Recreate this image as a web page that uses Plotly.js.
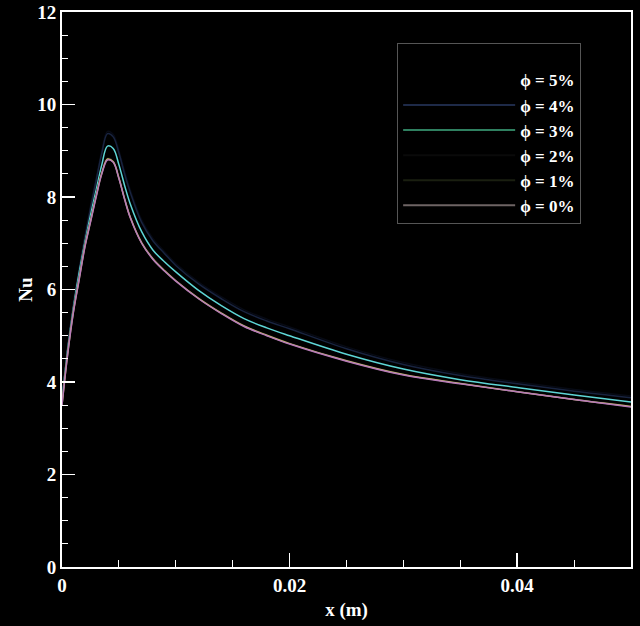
<!DOCTYPE html>
<html>
<head>
<meta charset="utf-8">
<script src="https://cdn.plot.ly/plotly-3.0.1.min.js"></script>
<style>html,body{margin:0;padding:0;background:#000;}#chart{width:640px;height:626px;}</style>
</head>
<body>
<div id="chart"></div>
<script>
// x positions along the wall (m)
const xPos = [0, 0.0005, 0.001, 0.0015, 0.002, 0.0025, 0.003, 0.0035, 0.004, 0.0045, 0.005, 0.0055, 0.006, 0.007, 0.008, 0.009, 0.010, 0.012, 0.014, 0.016, 0.018, 0.020, 0.025, 0.030, 0.035, 0.040, 0.045, 0.050];

// Nusselt number per volume fraction
const nu5 = [3.6, 4.75, 5.7, 6.45, 7.15, 7.8, 8.4, 9.0, 9.42, 9.35, 9.0, 8.55, 8.15, 7.5, 7.1, 6.82, 6.56, 6.16, 5.84, 5.56, 5.36, 5.19, 4.76, 4.42, 4.18, 4.0, 3.84, 3.7];
const nu4 = [3.6, 4.75, 5.65, 6.4, 7.1, 7.75, 8.35, 8.95, 9.37, 9.3, 8.95, 8.5, 8.1, 7.45, 7.05, 6.78, 6.52, 6.12, 5.8, 5.52, 5.32, 5.15, 4.72, 4.38, 4.14, 3.96, 3.8, 3.66];
const nu3 = [3.6, 4.7, 5.6, 6.35, 7.0, 7.6, 8.15, 8.7, 9.1, 9.05, 8.7, 8.25, 7.85, 7.25, 6.85, 6.6, 6.38, 5.98, 5.65, 5.37, 5.17, 5.0, 4.6, 4.28, 4.05, 3.88, 3.72, 3.57];
const nu2 = [3.55, 4.65, 5.55, 6.25, 6.95, 7.5, 8.05, 8.55, 8.84, 8.78, 8.43, 7.98, 7.58, 7.03, 6.68, 6.42, 6.2, 5.82, 5.5, 5.22, 5.02, 4.84, 4.47, 4.17, 3.98, 3.8, 3.63, 3.48];
const nu1 = [3.5, 4.62, 5.52, 6.22, 6.92, 7.47, 8.02, 8.52, 8.82, 8.76, 8.41, 7.96, 7.56, 7.01, 6.66, 6.41, 6.19, 5.81, 5.49, 5.21, 5.01, 4.83, 4.46, 4.16, 3.97, 3.79, 3.62, 3.47];
const nu0 = [3.5, 4.6, 5.5, 6.2, 6.9, 7.45, 8.0, 8.5, 8.8, 8.75, 8.4, 7.95, 7.55, 7.0, 6.65, 6.4, 6.18, 5.8, 5.48, 5.2, 5.0, 4.82, 4.45, 4.15, 3.96, 3.79, 3.62, 3.46];

const seriesNames = ['ϕ = 5%', 'ϕ = 4%', 'ϕ = 3%', 'ϕ = 2%', 'ϕ = 1%', 'ϕ = 0%'];
const seriesData = [nu5, nu4, nu3, nu2, nu1, nu0];
const curveColors = ['#070a14', '#18233f', '#5ed6d6', '#111111', '#c8c06a', '#b77ab9'];
const legendColors = ['#000000', '#1e2a48', '#2f8060', '#0a0a0a', '#1a1f10', '#6e6464'];

const traces = [];
seriesData.forEach((d, i) => {
  traces.push({
    x: xPos, y: d, type: 'scatter', mode: 'lines', line: {color: curveColors[i], width: 1.5, shape: 'spline'},
    showlegend: false, hoverinfo: 'skip'
  });
});
seriesNames.forEach((n, i) => {
  traces.push({
    x: [null], y: [null], type: 'scatter', mode: 'lines', name: n,
    line: {color: legendColors[i], width: 2}
  });
});

const font = {family: 'Liberation Serif, Times New Roman, serif', color: '#ffffff', size: 19, weight: 'bold'};

const layout = {
  width: 640, height: 626,
  margin: {l: 62, r: 9, t: 12, b: 59},
  paper_bgcolor: '#000', plot_bgcolor: '#000',
  font: font,
  xaxis: {
    range: [0, 0.05], tickvals: [0, 0.02, 0.04], ticktext: ['0', '0.02', '0.04'],
    showgrid: false, zeroline: false, showline: true, mirror: true, linecolor: '#ffffff', linewidth: 2,
    ticks: 'inside', ticklen: 14, tickwidth: 1.5, tickcolor: '#ffffff',
    minor: {dtick: 0.005, ticks: 'inside', ticklen: 7, tickcolor: '#ffffff', tickwidth: 1},
    tickfont: font,
    title: {text: 'x (m)', font: font, standoff: 8}
  },
  yaxis: {
    range: [0, 12], tickvals: [0, 2, 4, 6, 8, 10, 12],
    showgrid: false, zeroline: false, showline: true, mirror: true, linecolor: '#ffffff', linewidth: 2,
    ticks: 'inside', ticklen: 13, tickwidth: 1.5, tickcolor: '#ffffff',
    minor: {dtick: 0.5, ticks: 'inside', ticklen: 6, tickcolor: '#ffffff', tickwidth: 1},
    tickfont: font,
    title: {text: 'Nu', font: font, standoff: 0}
  },
  legend: {
    x: 0.589, y: 0.944, xanchor: 'left', yanchor: 'top',
    bgcolor: '#000', bordercolor: '#555555', borderwidth: 1,
    font: {family: 'Liberation Serif, Times New Roman, serif', color: '#ffffff', size: 17, weight: 'bold'},
    itemwidth: 112,
    title: {text: '&nbsp;', font: {size: 14, color: '#000'}}
  }
};

Plotly.newPlot('chart', traces, layout, {displayModeBar: false, staticPlot: true});
</script>
</body>
</html>
